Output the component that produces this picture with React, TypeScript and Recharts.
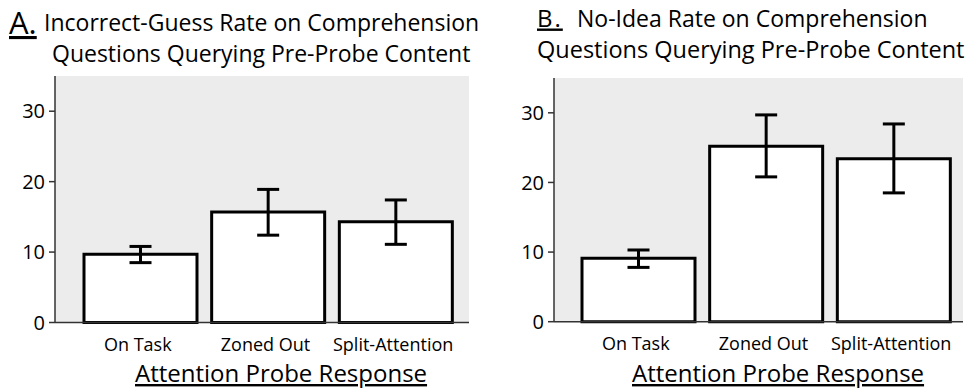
import React from 'react';
import { BarChart, Bar, XAxis, YAxis, CartesianGrid, ErrorBar } from 'recharts';

const categories = ['On Task', 'Zoned Out', 'Split-Attention'];
const yTicks = [0, 10, 20, 30];

const incorrectGuessRate = [9.7, 15.7, 14.3];
const incorrectGuessLow = [8.5, 12.4, 11.1];
const incorrectGuessHigh = [10.8, 18.9, 17.4];

const noIdeaRate = [9.1, 25.2, 23.4];
const noIdeaLow = [7.8, 20.8, 18.5];
const noIdeaHigh = [10.3, 29.7, 28.4];

const FONT = '"Open Sans", sans-serif';

function buildRows(values: number[], low: number[], high: number[]) {
  return categories.map((name, i) => ({
    name,
    value: values[i],
    err: [values[i] - low[i], high[i] - values[i]],
  }));
}

const rowsA = buildRows(incorrectGuessRate, incorrectGuessLow, incorrectGuessHigh);
const rowsB = buildRows(noIdeaRate, noIdeaLow, noIdeaHigh);

type PanelProps = {
  rows: any[];
  width: number;
  top: number;
  right: number;
  bottomY: number;
  yAxisWidth: number;
  padLeft: number;
  padRight: number;
};

function Panel({ rows, width, top, right, bottomY, yAxisWidth, padLeft, padRight }: PanelProps) {
  const height = 391;
  const xh = 40;
  return (
    <BarChart
      width={width}
      height={height}
      data={rows}
      margin={{ top, right, left: 0, bottom: height - bottomY - xh }}
    >
      <CartesianGrid fill="#ececec" stroke="none" horizontal={false} vertical={false} />
      <XAxis
        dataKey="name"
        height={xh}
        padding={{ left: padLeft, right: padRight }}
        tickLine={false}
        tickSize={0}
        tickMargin={16}
        axisLine={{ stroke: '#333', strokeWidth: 1.5 }}
        tick={{ fontFamily: FONT, fontSize: 18, fill: '#000', dx: -3 }}
        interval={0}
      />
      <XAxis
        xAxisId="top"
        orientation="top"
        dataKey="name"
        height={0}
        tick={false}
        tickLine={false}
        axisLine={{ stroke: '#555', strokeWidth: 1.5 }}
      />
      <YAxis
        width={yAxisWidth}
        domain={[0, 35]}
        ticks={yTicks}
        tickSize={6}
        tickMargin={4}
        tickLine={{ stroke: '#333', strokeWidth: 1.5 }}
        axisLine={{ stroke: '#333', strokeWidth: 1.5 }}
        tick={{ fontFamily: FONT, fontSize: 20, fill: '#000' }}
      />
      <YAxis
        yAxisId="right"
        orientation="right"
        width={0}
        domain={[0, 35]}
        tick={false}
        tickLine={false}
        axisLine={{ stroke: '#555', strokeWidth: 1.5 }}
      />
      <Bar dataKey="value" fill="#ffffff" stroke="#000" strokeWidth={3} barSize={113} isAnimationActive={false}>
        <ErrorBar dataKey="err" width={11} stroke="#000" strokeWidth={3} />
      </Bar>
    </BarChart>
  );
}

export default function App() {
  return (
    <div style={{ position: 'absolute', left: 0, top: 0, width: 969, height: 391, background: '#fff', fontFamily: FONT }}>
      <div style={{ position: 'absolute', left: 0, top: 0 }}>
        <Panel rows={rowsA} width={484} top={76} right={15} bottomY={322.5} yAxisWidth={55} padLeft={22} padRight={9} />
      </div>
      <div style={{ position: 'absolute', left: 480, top: 0 }}>
        <Panel rows={rowsB} width={489} top={78} right={6} bottomY={321.7} yAxisWidth={74} padLeft={21} padRight={5} />
      </div>
      <svg width={969} height={391} style={{ position: 'absolute', left: 0, top: 0, pointerEvents: 'none' }}>
        <g fontFamily={FONT} fill="#000">
          <text x={9} y={34} fontSize={31} style={{ textDecoration: 'underline' }}>A.</text>
          <text x={44} y={31} fontSize={23}>Incorrect-Guess Rate on Comprehension</text>
          <text x={52} y={62} fontSize={23}>Questions Querying Pre-Probe Content</text>
          <text x={537} y={26.5} fontSize={24} letterSpacing={2} style={{ textDecoration: 'underline' }}>B.</text>
          <text x={577} y={26.5} fontSize={23}>No-Idea Rate on Comprehension</text>
          <text x={537} y={58} fontSize={23.5}>Questions Querying Pre-Probe Content</text>
          <text x={135} y={382} fontSize={24} style={{ textDecoration: 'underline' }}>Attention Probe Response</text>
          <text x={632} y={382} fontSize={24} style={{ textDecoration: 'underline' }}>Attention Probe Response</text>
        </g>
      </svg>
    </div>
  );
}
